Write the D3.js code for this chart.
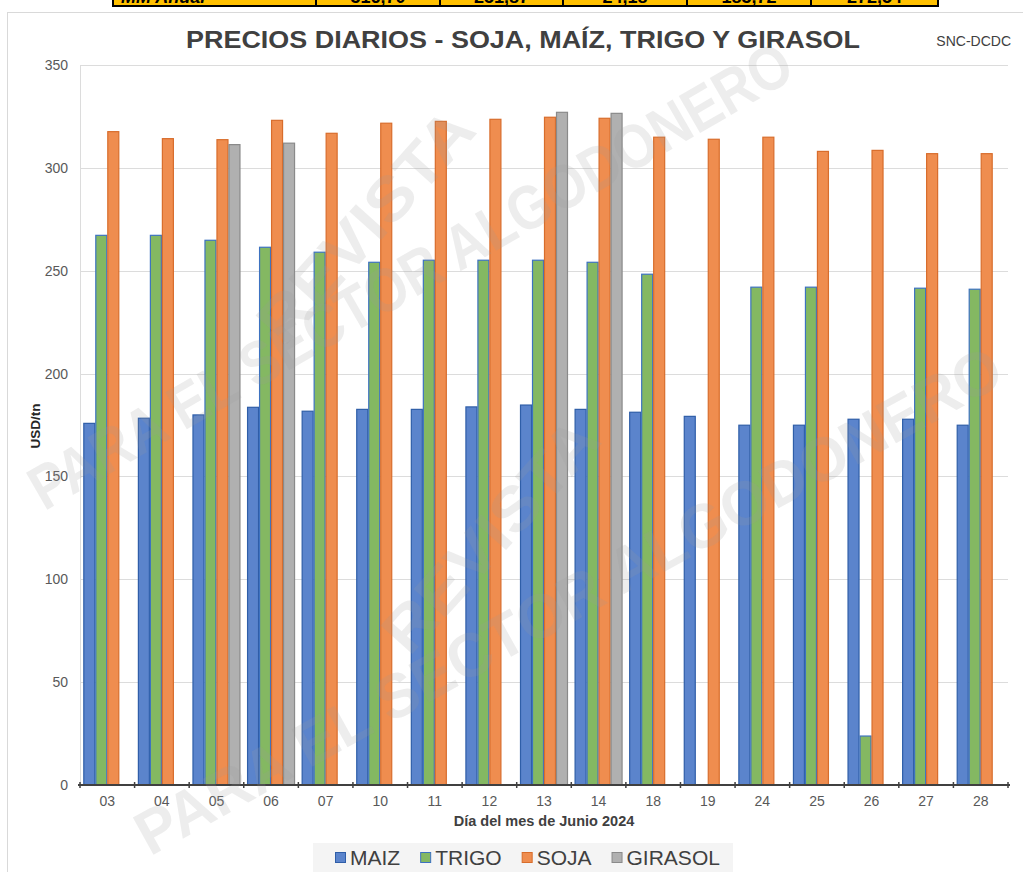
<!DOCTYPE html>
<html>
<head>
<meta charset="utf-8">
<script src="https://cdn.jsdelivr.net/npm/d3@7"></script>
<style>
  body { margin: 0; background: #fff; }
  svg { display: block; font-family: "Liberation Sans", Arial, sans-serif; }
</style>
</head>
<body>
<svg width="1023" height="872"></svg>
<script>
// data
var days = ["03", "04", "05", "06", "07", "10", "11", "12", "13", "14", "18", "19", "24", "25", "26", "27", "28"];
var series = ["MAIZ", "TRIGO", "SOJA", "GIRASOL"];
var maiz = [175.8, 178.3, 179.9, 183.6, 181.7, 182.6, 182.6, 183.8, 184.7, 182.6, 181.2, 179.2, 174.9, 174.9, 177.8, 177.8, 174.9];
var trigo = [267.2, 267.2, 264.8, 261.4, 259.0, 254.1, 255.1, 255.1, 255.1, 254.1, 248.3, null, 242.0, 242.0, 23.8, 241.5, 241.0];
var soja = [317.6, 314.2, 313.7, 323.1, 316.8, 321.7, 322.6, 323.6, 324.6, 324.1, 314.9, 313.9, 314.9, 308.0, 308.5, 306.9, 306.9];
var girasol = [null, null, 311.3, 312.0, null, null, null, null, 327.0, 326.5, null, null, null, null, null, null, null];
var yTicks = [0, 50, 100, 150, 200, 250, 300, 350];
var tableCells = ["MM Anual", "316,70", "251,87", "24,18", "183,72", "272,54"];

var fills = ["#5b84cc", "#84b862", "#ef8d4f", "#b0b0b0"];
var strokes = ["#2f5ea8", "#3d72c0", "#d86d2c", "#8a8a8a"];

var svg = d3.select("svg"),
    plotL = 80, plotR = 1008, plotT = 65, plotB = 785;

// piece of the table above the chart
var cellEdges = [113, 316, 440, 563, 687, 811, 938];
var table = svg.append("g");
tableCells.forEach(function(t, i) {
    table.append("rect")
        .attr("x", cellEdges[i]).attr("y", -10)
        .attr("width", cellEdges[i + 1] - cellEdges[i]).attr("height", 16)
        .attr("fill", "#ffc000").attr("stroke", "#000").attr("stroke-width", 2);
    table.append("text")
        .attr("x", i == 0 ? cellEdges[i] + 8 : (cellEdges[i] + cellEdges[i + 1]) / 2)
        .attr("y", 3)
        .attr("text-anchor", i == 0 ? "start" : "middle")
        .style("font-size", "18px").style("font-weight", "bold")
        .style("font-style", i == 0 ? "italic" : "normal")
        .text(t);
});

// chart frame
svg.append("rect")
    .attr("x", 7.5).attr("y", 12.5).attr("width", 1040).attr("height", 900)
    .attr("fill", "none").attr("stroke", "#d9d9d9");

var x0 = d3.scaleBand().domain(days).range([plotL, plotR]);
var x1 = d3.scaleBand().domain(series).range([0, x0.bandwidth()]).paddingOuter(0.275);
var y = d3.scaleLinear().domain([0, 350]).range([plotB, plotT]);

// grid
svg.append("g").selectAll("line").data(yTicks.slice(1)).enter().append("line")
    .attr("x1", plotL).attr("x2", plotR)
    .attr("y1", function(d) { return Math.round(y(d)) + 0.5; })
    .attr("y2", function(d) { return Math.round(y(d)) + 0.5; })
    .attr("stroke", "#dcdcdc");
svg.append("line")
    .attr("x1", plotL + 0.5).attr("x2", plotL + 0.5).attr("y1", plotT).attr("y2", plotB)
    .attr("stroke", "#dcdcdc");

// y labels
svg.append("g").selectAll("text").data(yTicks).enter().append("text")
    .attr("x", 68).attr("y", function(d) { return y(d) + 5; })
    .attr("text-anchor", "end")
    .style("font-size", "14px").style("fill", "#595959")
    .text(function(d) { return d; });

// bars
var values = [maiz, trigo, soja, girasol];
var bars = svg.append("g");
series.forEach(function(s, si) {
    var data = days.map(function(d, i) { return { day: d, v: values[si][i] }; })
        .filter(function(d) { return d.v != null; });
    bars.selectAll(".b" + si).data(data).enter().append("rect")
        .attr("class", "b" + si)
        .attr("x", function(d) { return x0(d.day) + x1(s) + 0.5; })
        .attr("y", function(d) { return y(d.v); })
        .attr("width", x1.bandwidth() - 1)
        .attr("height", function(d) { return y(0) - y(d.v); })
        .attr("fill", fills[si])
        .attr("stroke", strokes[si])
        .attr("stroke-width", 1.2);
});

// x axis
var xAxis = svg.append("g");
xAxis.append("line")
    .attr("x1", plotL - 2).attr("x2", plotR + 2).attr("y1", plotB).attr("y2", plotB)
    .attr("stroke", "#404040").attr("stroke-width", 2);
xAxis.selectAll(".tick").data(days.concat(["end"])).enter().append("line")
    .attr("x1", function(d, i) { return plotL + i * x0.step(); })
    .attr("x2", function(d, i) { return plotL + i * x0.step(); })
    .attr("y1", plotB - 3).attr("y2", plotB + 3)
    .attr("stroke", "#404040").attr("stroke-width", 1.5);
xAxis.selectAll("text").data(days).enter().append("text")
    .attr("x", function(d) { return x0(d) + x0.bandwidth() / 2; })
    .attr("y", 806)
    .attr("text-anchor", "middle")
    .style("font-size", "14px").style("fill", "#595959")
    .text(function(d) { return d; });

svg.append("text")
    .attr("x", 544).attr("y", 826).attr("text-anchor", "middle")
    .style("font-size", "14.5px").style("font-weight", "bold").style("fill", "#404040")
    .text("Día del mes de Junio 2024");

svg.append("text")
    .attr("transform", "translate(40,426) rotate(-90)")
    .attr("text-anchor", "middle")
    .style("font-size", "13.5px").style("font-weight", "bold").style("fill", "#262626")
    .text("USD/tn");

// title
svg.append("text")
    .attr("x", 523).attr("y", 48).attr("text-anchor", "middle")
    .attr("textLength", 674).attr("lengthAdjust", "spacingAndGlyphs")
    .style("font-size", "24px").style("font-weight", "bold").style("fill", "#404040")
    .text("PRECIOS DIARIOS - SOJA, MAÍZ, TRIGO Y GIRASOL");
svg.append("text")
    .attr("x", 1011).attr("y", 46).attr("text-anchor", "end")
    .style("font-size", "14px").style("fill", "#404040")
    .text("SNC-DCDC");

// legend
var legend = svg.append("g");
legend.append("rect")
    .attr("x", 313).attr("y", 843).attr("width", 420).attr("height", 29)
    .attr("fill", "#f4f4f4");
var lx = 335;
series.forEach(function(s, si) {
    legend.append("rect")
        .attr("x", lx + 0.5).attr("y", 852.5).attr("width", 10).attr("height", 10)
        .attr("fill", fills[si]).attr("stroke", strokes[si]);
    var t = legend.append("text")
        .attr("x", lx + 15).attr("y", 865)
        .style("font-size", "21px").style("fill", "#404040")
        .text(s);
    lx += 15 + t.node().getComputedTextLength() + 20;
});

// watermark
var marks = [
    { text: "REVISTA", cx: 365, cy: 225, angle: -48, len: 290 },
    { text: "PARA EL SECTOR ALGODONERO", cx: 410, cy: 275, angle: -30, len: 870 },
    { text: "REVISTA", cx: 490, cy: 535, angle: -48, len: 290 },
    { text: "PARA EL SECTOR ALGODONERO", cx: 568, cy: 600, angle: -29, len: 980 }
];
var wm = svg.append("g").style("pointer-events", "none");
marks.forEach(function(m) {
    wm.append("text")
        .attr("transform", "translate(" + m.cx + "," + m.cy + ") rotate(" + m.angle + ")")
        .attr("y", 22).attr("text-anchor", "middle")
        .attr("textLength", m.len).attr("lengthAdjust", "spacingAndGlyphs")
        .style("font-size", "62px").style("font-weight", "bold")
        .style("fill", "#999").style("fill-opacity", 0.18)
        .text(m.text);
});
</script>
</body>
</html>
